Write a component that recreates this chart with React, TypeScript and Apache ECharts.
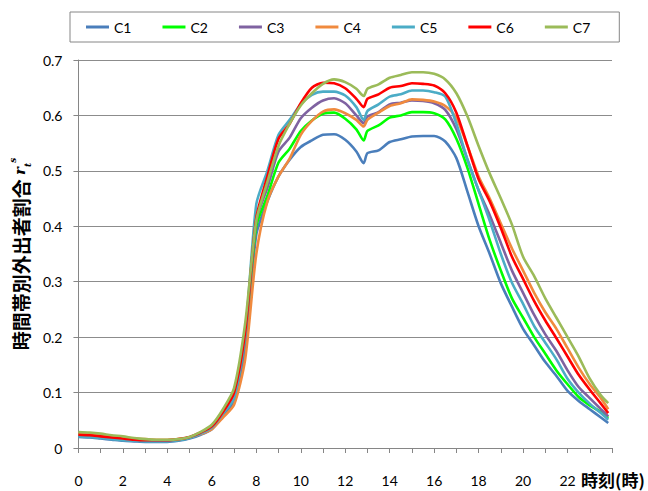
import React, { useEffect, useRef } from 'react';
import * as echarts from 'echarts';

const hours = [0, 0.5, 1, 1.5, 2, 2.5, 3, 3.5, 4, 4.5, 5, 5.5, 6, 6.5, 7, 7.5, 8, 8.5, 9, 9.5, 10, 10.5, 11, 11.5, 12, 12.5, 12.83, 13, 13.5, 14, 14.5, 15, 15.5, 16, 16.5, 17, 17.5, 18, 18.5, 19, 19.5, 20, 20.5, 21, 21.5, 22, 22.5, 23, 23.5, 23.83];

const seriesNames = ['C1', 'C2', 'C3', 'C4', 'C5', 'C6', 'C7'];

const c1 = [0.020, 0.019, 0.017, 0.015, 0.013, 0.012, 0.011, 0.011, 0.011, 0.013, 0.017, 0.024, 0.034, 0.058, 0.085, 0.18, 0.385, 0.445, 0.49, 0.52, 0.543, 0.555, 0.565, 0.566, 0.556, 0.535, 0.514, 0.532, 0.537, 0.552, 0.557, 0.562, 0.563, 0.563, 0.553, 0.523, 0.462, 0.40, 0.35, 0.297, 0.255, 0.215, 0.185, 0.155, 0.13, 0.103, 0.085, 0.07, 0.055, 0.045];
const c2 = [0.024, 0.023, 0.021, 0.019, 0.017, 0.015, 0.014, 0.013, 0.013, 0.015, 0.019, 0.027, 0.038, 0.063, 0.095, 0.205, 0.40, 0.455, 0.515, 0.54, 0.572, 0.591, 0.603, 0.605, 0.594, 0.575, 0.555, 0.572, 0.582, 0.596, 0.60, 0.606, 0.606, 0.604, 0.593, 0.558, 0.505, 0.44, 0.375, 0.32, 0.27, 0.235, 0.20, 0.17, 0.14, 0.115, 0.092, 0.077, 0.065, 0.054];
const c3 = [0.022, 0.021, 0.019, 0.017, 0.015, 0.014, 0.013, 0.013, 0.013, 0.015, 0.019, 0.027, 0.038, 0.063, 0.095, 0.205, 0.41, 0.47, 0.535, 0.56, 0.595, 0.614, 0.627, 0.631, 0.622, 0.60, 0.586, 0.598, 0.606, 0.62, 0.623, 0.627, 0.626, 0.622, 0.61, 0.575, 0.52, 0.465, 0.42, 0.37, 0.32, 0.28, 0.24, 0.205, 0.175, 0.14, 0.11, 0.09, 0.07, 0.057];
const c4 = [0.026, 0.026, 0.024, 0.021, 0.019, 0.017, 0.016, 0.015, 0.015, 0.016, 0.019, 0.025, 0.034, 0.055, 0.078, 0.16, 0.35, 0.445, 0.49, 0.522, 0.565, 0.59, 0.607, 0.611, 0.604, 0.592, 0.58, 0.592, 0.605, 0.617, 0.622, 0.629, 0.628, 0.625, 0.617, 0.595, 0.545, 0.49, 0.45, 0.405, 0.36, 0.32, 0.28, 0.245, 0.215, 0.18, 0.145, 0.115, 0.09, 0.07];
const c5 = [0.021, 0.020, 0.018, 0.016, 0.014, 0.013, 0.012, 0.012, 0.012, 0.014, 0.018, 0.026, 0.037, 0.062, 0.09, 0.205, 0.44, 0.50, 0.565, 0.592, 0.62, 0.637, 0.643, 0.643, 0.636, 0.615, 0.592, 0.608, 0.62, 0.634, 0.638, 0.645, 0.645, 0.642, 0.634, 0.585, 0.52, 0.465, 0.41, 0.35, 0.298, 0.26, 0.22, 0.19, 0.16, 0.125, 0.10, 0.08, 0.063, 0.051];
const c6 = [0.024, 0.023, 0.021, 0.019, 0.017, 0.015, 0.014, 0.014, 0.014, 0.016, 0.020, 0.028, 0.039, 0.065, 0.10, 0.21, 0.415, 0.49, 0.558, 0.585, 0.622, 0.65, 0.659, 0.658, 0.649, 0.63, 0.615, 0.63, 0.638, 0.65, 0.653, 0.658, 0.657, 0.654, 0.64, 0.605, 0.545, 0.485, 0.445, 0.397, 0.345, 0.305, 0.265, 0.23, 0.198, 0.165, 0.132, 0.105, 0.08, 0.063];
const c7 = [0.029, 0.028, 0.026, 0.023, 0.021, 0.018, 0.016, 0.015, 0.015, 0.016, 0.020, 0.029, 0.042, 0.070, 0.108, 0.225, 0.41, 0.48, 0.545, 0.585, 0.618, 0.64, 0.657, 0.665, 0.66, 0.648, 0.635, 0.648, 0.656, 0.668, 0.673, 0.678, 0.678, 0.675, 0.665, 0.64, 0.598, 0.545, 0.495, 0.45, 0.403, 0.345, 0.31, 0.27, 0.235, 0.20, 0.165, 0.125, 0.095, 0.081];

const colors = ['#4A7EBB', '#00FF00', '#7F62A1', '#F08A3E', '#4BACC6', '#FF0000', '#9BBB59'];
const xTickLabels = ['0', '2', '4', '6', '8', '10', '12', '14', '16', '18', '20', '22'];
const yTickLabels = ['0', '0.1', '0.2', '0.3', '0.4', '0.5', '0.6', '0.7'];

export default function App() {
  const ref = useRef<HTMLDivElement>(null);
  useEffect(() => {
    const chart = echarts.init(ref.current!, null, { renderer: 'svg' });
    const values = [c1, c2, c3, c4, c5, c6, c7];
    const font = 'Lato';
    chart.setOption({
      animation: false,
      legend: {
        data: seriesNames,
        left: 70,
        top: 12,
        padding: [8, 29, 8, 16],
        borderColor: '#868686',
        borderWidth: 1,
        itemGap: 31,
        itemWidth: 23,
        itemHeight: 3,
        icon: 'rect',
        textStyle: { fontSize: 14, fontFamily: font, color: '#000' },
      },
      grid: { left: 71, right: 36, top: 60, bottom: 43, containLabel: false },
      xAxis: {
        type: 'value',
        min: 0,
        max: 24,
        interval: 1,
        axisLine: { show: true, lineStyle: { color: '#868686', width: 1 } },
        axisTick: { show: true, length: 5, lineStyle: { color: '#868686' } },
        splitLine: { show: false },
        axisLabel: {
          margin: 25,
          fontSize: 14,
          fontFamily: font,
          color: '#000',
          formatter: (v: number) => {
            const idx = xTickLabels.indexOf(String(v));
            return idx >= 0 ? xTickLabels[idx] : '';
          },
        },
      },
      yAxis: {
        type: 'value',
        min: 0,
        max: 0.7,
        interval: 0.1,
        axisLine: { show: true, lineStyle: { color: '#868686', width: 1 } },
        axisTick: { show: true, length: 5, lineStyle: { color: '#868686' } },
        splitLine: { show: true, lineStyle: { color: '#8C8C8C', width: 1 } },
        axisLabel: {
          margin: 16,
          fontSize: 14,
          fontFamily: font,
          color: '#000',
          formatter: (v: number) => yTickLabels[Math.round(v * 10)] ?? '',
        },
        name: '{a|時間帯別外出者割合 }{r|r}{sub|t}{sup|s}',
        nameLocation: 'middle',
        nameRotate: 90,
        nameGap: 44,
        nameTextStyle: {
          rich: {
            a: { fontSize: 19, fontWeight: 'bold', fontFamily: '"Noto Sans CJK JP"', color: '#000', lineHeight: 24 },
            r: { fontSize: 15, fontWeight: 'bold', fontStyle: 'italic', fontFamily: 'DejaVu Serif', color: '#000', lineHeight: 24 },
            sub: { fontSize: 9, fontWeight: 'bold', fontStyle: 'italic', fontFamily: 'DejaVu Serif', color: '#000', verticalAlign: 'bottom', lineHeight: 24 },
            sup: { fontSize: 9, fontWeight: 'bold', fontStyle: 'italic', fontFamily: 'DejaVu Serif', color: '#000', verticalAlign: 'top', lineHeight: 24 },
          },
        },
      },
      series: seriesNames.map((n, i) => ({
        name: n,
        type: 'line',
        data: hours.map((h, j) => [h, values[i][j]]),
        symbol: 'none',
        smooth: 0.25,
        lineStyle: { width: 2.6, color: colors[i] },
        itemStyle: { color: colors[i] },
      })),
      graphic: [
        {
          type: 'text',
          left: 581,
          top: 471,
          style: { text: '時刻(時)', font: 'bold 17px "Noto Sans CJK JP"', fill: '#000' },
        },
      ],
    });
    return () => chart.dispose();
  }, []);
  return <div ref={ref} style={{ position: 'absolute', left: 0, top: 0, width: 648, height: 491 }} />;
}
